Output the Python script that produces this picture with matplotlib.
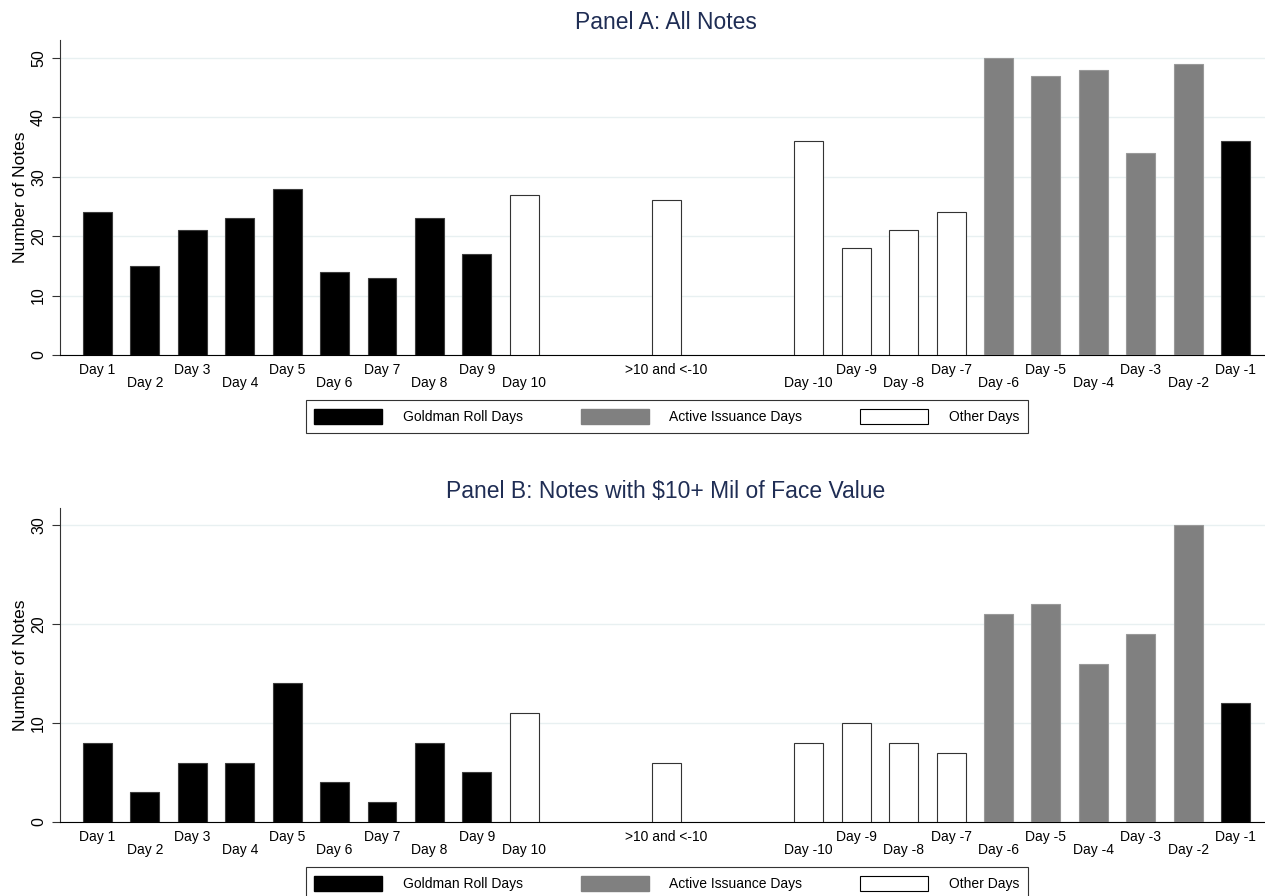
import matplotlib
matplotlib.use("Agg")
import matplotlib.pyplot as plt
from matplotlib.patches import Patch

plt.rcParams['font.family'] = ['Liberation Sans', 'DejaVu Sans']

# bar slots: Day 1..10, then the ">10 and <-10" group, then Day -10..-1
positions = [1, 2, 3, 4, 5, 6, 7, 8, 9, 10, 13, 16, 17, 18, 19, 20, 21, 22, 23, 24, 25]
labels = ["Day 1", "Day 2", "Day 3", "Day 4", "Day 5", "Day 6", "Day 7", "Day 8",
          "Day 9", "Day 10", ">10 and <-10", "Day -10", "Day -9", "Day -8", "Day -7",
          "Day -6", "Day -5", "Day -4", "Day -3", "Day -2", "Day -1"]
# g = Goldman roll, a = active issuance, o = other
day_type = ["g"] * 9 + ["o"] * 6 + ["a"] * 5 + ["g"]

all_notes = [24, 15, 21, 23, 28, 14, 13, 23, 17, 27, 26, 36, 18, 21, 24, 50, 47, 48, 34, 49, 36]
big_notes = [8, 3, 6, 6, 14, 4, 2, 8, 5, 11, 6, 8, 10, 8, 7, 21, 22, 16, 19, 30, 12]

fills = {"g": "black", "a": "#808080", "o": "white"}
edges = {"g": "#3c3c3c", "a": "#999999", "o": "#333333"}
title_color = "#1f2d54"


def draw_panel(ax, values, ymax, yticks):
    ax.bar(positions, values, width=0.61,
           color=[fills[t] for t in day_type],
           edgecolor=[edges[t] for t in day_type], linewidth=0.8, zorder=3)
    ax.set_xlim(0.21, 25.62)
    ax.set_ylim(0, ymax)
    ax.set_yticks(yticks)
    ax.set_yticklabels([str(v) for v in yticks], rotation=90, va="center", fontsize=11.5)
    ax.set_ylabel("Number of Notes", fontsize=12.5, labelpad=2)
    ax.yaxis.grid(True, color="#e8f0f1", linewidth=1)
    ax.set_axisbelow(True)

    # alternating two-row labels
    ax.set_xticks(positions[0::2], labels[0::2])
    ax.set_xticks(positions[1::2], labels[1::2], minor=True)
    ax.tick_params(axis="x", which="major", length=0, pad=6, labelsize=10)
    ax.tick_params(axis="x", which="minor", length=0, pad=15, labelsize=10)
    ax.tick_params(axis="y", length=6, width=0.8, color="#333333", pad=4)

    for s in ("top", "right"):
        ax.spines[s].set_visible(False)
    ax.spines["left"].set_color("#333333")
    ax.spines["bottom"].set_color("black")


fig = plt.figure(figsize=(12.65, 8.96), dpi=100)
ax_a = fig.add_axes([0.0474, 0.6038, 0.9526, 0.3516])
ax_b = fig.add_axes([0.0474, 0.0826, 0.9526, 0.3504])

draw_panel(ax_a, all_notes, 53, [0, 10, 20, 30, 40, 50])
draw_panel(ax_b, big_notes, 31.7, [0, 10, 20, 30])

fig.text(0.5265, 0.9754, "Panel A: All Notes", ha="center", va="center",
         fontsize=16.5, color=title_color)
fig.text(0.5265, 0.4509, "Panel B: Notes with $10+ Mil of Face Value", ha="center",
         va="center", fontsize=16.5, color=title_color)

handles = [Patch(facecolor="black", edgecolor="black", label="Goldman Roll Days"),
           Patch(facecolor="#808080", edgecolor="#808080", label="Active Issuance Days"),
           Patch(facecolor="white", edgecolor="black", linewidth=0.8, label="Other Days")]

for ax, top in ((ax_a, 0.5536), (ax_b, 0.0324)):
    leg = ax.legend(handles=handles, ncol=3, loc="upper center",
                    bbox_to_anchor=(0.527, top), bbox_transform=fig.transFigure,
                    fontsize=10, handlelength=4.9, handleheight=1.37,
                    handletextpad=1.45, columnspacing=4.2, borderpad=0.62,
                    borderaxespad=0, fancybox=False, framealpha=1)
    leg.get_frame().set_edgecolor("#333333")
    leg.get_frame().set_linewidth(0.8)

fig.savefig("out.png", dpi=100)
plt.close(fig)
